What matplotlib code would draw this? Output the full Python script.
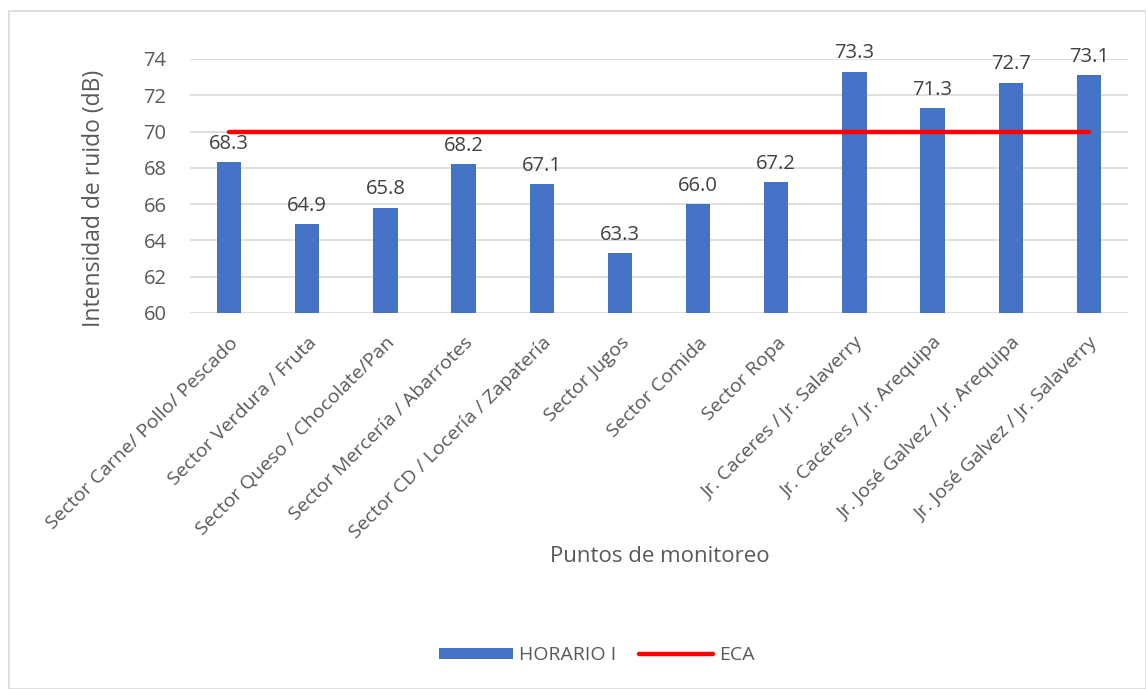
import matplotlib.pyplot as plt
from matplotlib.patches import Rectangle

puntos = ['Sector Carne/ Pollo/ Pescado', 'Sector Verdura / Fruta',
          'Sector Queso / Chocolate/Pan', 'Sector Mercería / Abarrotes',
          'Sector CD / Locería / Zapatería', 'Sector Jugos', 'Sector Comida',
          'Sector Ropa', 'Jr. Caceres / Jr. Salaverry', 'Jr. Cacéres / Jr. Arequipa',
          'Jr. José Galvez / Jr. Arequipa', 'Jr. José Galvez / Jr. Salaverry']
horario_1 = [68.3, 64.9, 65.8, 68.2, 67.1, 63.3, 66.0, 67.2, 73.3, 71.3, 72.7, 73.1]
eca = [70] * len(puntos)

plt.rcParams['font.family'] = ['Open Sans', 'DejaVu Sans']
gris = '#595959'

fig = plt.figure(figsize=(11.46, 6.89), dpi=100)
ax = fig.add_axes([190 / 1146, 1 - 313 / 689, 938 / 1146, 254 / 689])

x = list(range(len(puntos)))
barras = ax.bar(x, horario_1, width=0.31, color='#4472C4', label='HORARIO I', zorder=2)
linea, = ax.plot(x, eca, color='#FF0000', lw=3.2, solid_capstyle='round', label='ECA', zorder=3)

for xi, v in zip(x, horario_1):
    ax.annotate(f'{v:.1f}', (xi, v), xytext=(0, 6), textcoords='offset points',
                ha='center', va='bottom', fontsize=14.5, color='#404040', zorder=4)

ax.set_xlim(-0.5, len(puntos) - 0.5)
ax.set_ylim(60, 74)
ax.set_yticks(range(60, 75, 2))
ax.grid(axis='y', color='#D9D9D9', lw=1.2, zorder=0)
for s in ax.spines.values():
    s.set_visible(False)
ax.tick_params(length=0, colors=gris, labelsize=14.5)
ax.tick_params(axis='y', pad=17)
ax.tick_params(axis='x', pad=15)
ax.set_xticks(x)
ax.set_xticklabels(puntos, rotation=45, ha='right', rotation_mode='anchor', fontsize=14)

ax.set_ylabel('Intensidad de ruido (dB)', fontsize=16.5, color=gris)
ax.yaxis.set_label_coords(-0.09, 0.45)
fig.text(660 / 1146, 1 - 557 / 689, 'Puntos de monitoreo', fontsize=16, color=gris,
         ha='center', va='center')

fig.legend([barras, linea], ['HORARIO I', 'ECA'], loc='center',
           bbox_to_anchor=(597 / 1146, 1 - 655 / 689), ncol=2, frameon=False,
           fontsize=14, labelcolor=gris, handlelength=3.8, handleheight=0.5,
           handletextpad=0.3, columnspacing=1.2)

fig.patches.append(Rectangle((9 / 1146, 0), 1 - 9 / 1146, 1 - 11 / 689, transform=fig.transFigure,
                             fill=False, edgecolor='#D9D9D9', lw=1.2))

fig.savefig('out.png', dpi=100)
